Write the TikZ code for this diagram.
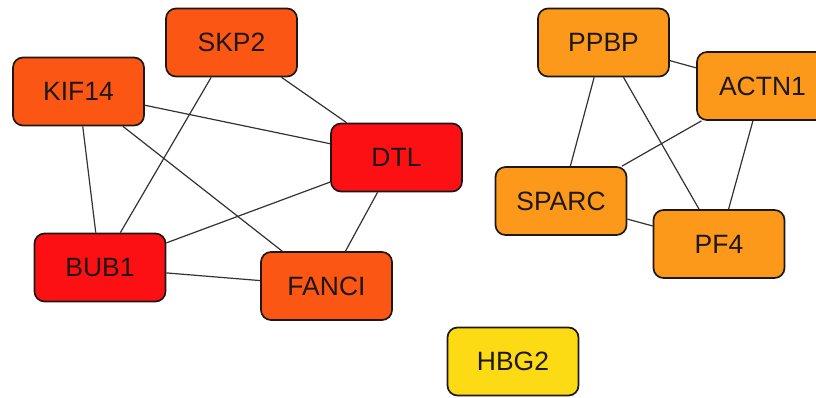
\documentclass[tikz,border=0pt]{standalone}
\usepackage{fontspec}
\setmainfont{Liberation Sans}
\definecolor{hubred}{RGB}{252,16,20}
\definecolor{hotorange}{RGB}{252,86,20}
\definecolor{warmorange}{RGB}{252,152,26}
\definecolor{sunyellow}{RGB}{253,219,20}
\definecolor{rim}{RGB}{30,24,20}
\definecolor{link}{RGB}{50,50,50}
\tikzset{
  gene/.style={draw=rim, line width=1.7pt, rounded corners=10pt,
    minimum width=131pt, minimum height=68pt, inner sep=0pt,
    font=\fontsize{26.5}{30}\selectfont, text=rim},
  tie/.style={draw=link, line width=1.2pt}
}
\begin{document}
\begin{tikzpicture}[x=1pt, y=-1pt]
  \useasboundingbox (0,0) rectangle (816,398);
  \clip (0,0) rectangle (816,398);
  % first cluster
  \node[gene, fill=hotorange] (skp2)  at (231.5, 42.5) {SKP2};
  \node[gene, fill=hotorange] (kif14) at (78.5, 91.5) {KIF14};
  \node[gene, fill=hubred]    (dtl)   at (396.5, 157.5) {DTL};
  \node[gene, fill=hubred]    (bub1)  at (100, 267.5) {BUB1};
  \node[gene, fill=hotorange] (fanci) at (326.5, 286) {FANCI};
  % second cluster
  \node[gene, fill=warmorange] (ppbp)  at (603.5, 42.5) {PPBP};
  \node[gene, fill=warmorange] (actn1) at (762.5, 86) {ACTN1};
  \node[gene, fill=warmorange] (sparc) at (561, 201) {SPARC};
  \node[gene, fill=warmorange] (pf4)   at (719, 244) {PF4};
  % isolated gene
  \node[gene, fill=sunyellow] (hbg2) at (513, 361.5) {HBG2};
  % interactions
  \draw[tie] (skp2) -- (dtl);
  \draw[tie] (skp2) -- (bub1);
  \draw[tie] (kif14) -- (dtl);
  \draw[tie] (kif14) -- (bub1);
  \draw[tie] (kif14) -- (fanci);
  \draw[tie] (dtl) -- (bub1);
  \draw[tie] (dtl) -- (fanci);
  \draw[tie] (bub1) -- (fanci);
  \draw[tie] (ppbp) -- (actn1);
  \draw[tie] (ppbp) -- (sparc);
  \draw[tie] (ppbp) -- (pf4);
  \draw[tie] (actn1) -- (sparc);
  \draw[tie] (actn1) -- (pf4);
  \draw[tie] (sparc) -- (pf4);
\end{tikzpicture}
\end{document}
